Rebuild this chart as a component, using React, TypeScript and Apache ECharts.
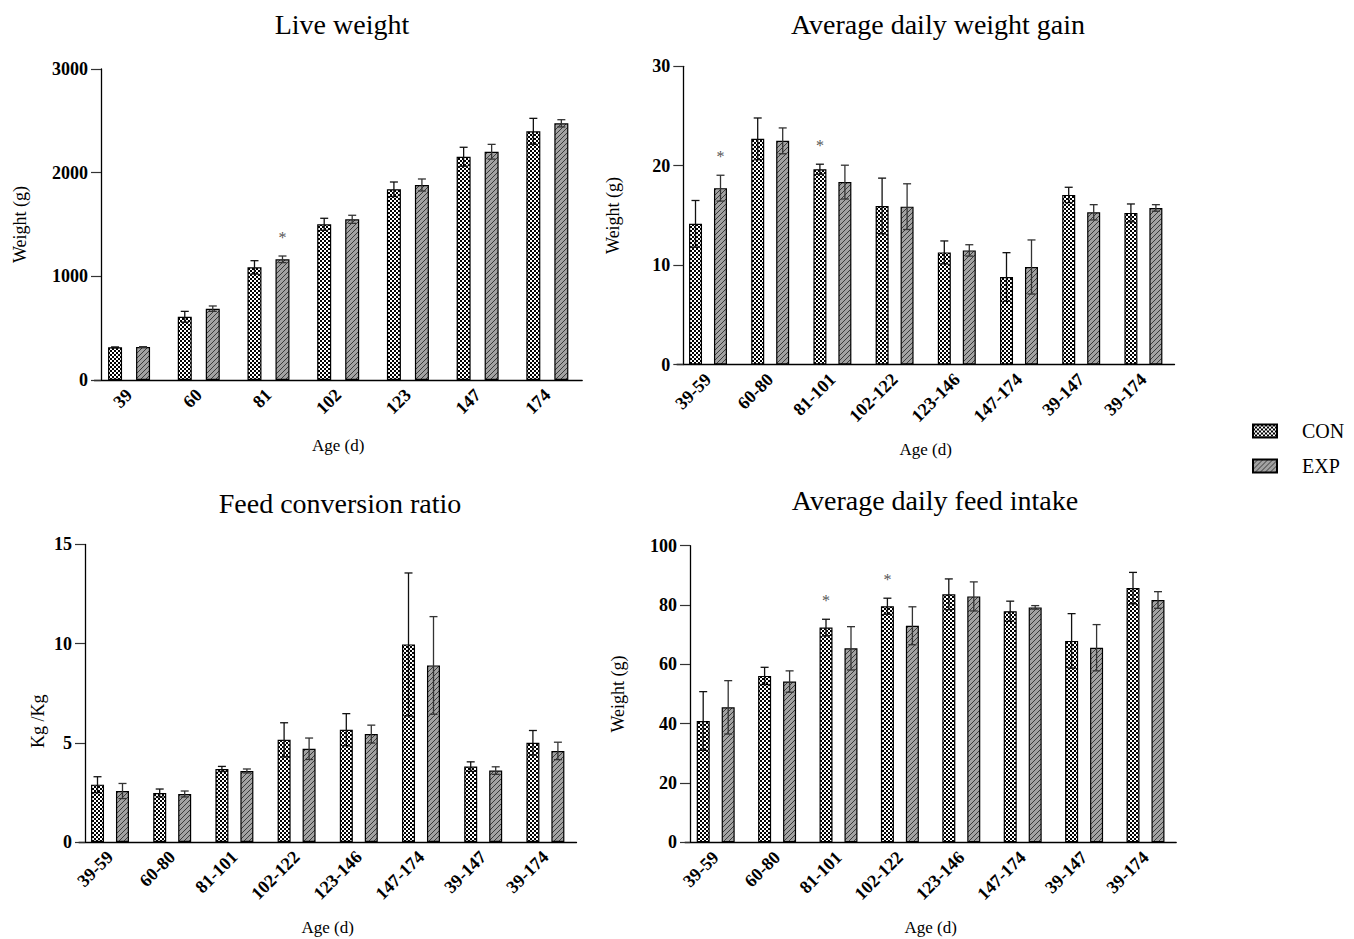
import React, { useEffect, useRef } from 'react';
import * as echarts from 'echarts';

const FONT = 'Liberation Serif';

const liveAges = ['39', '60', '81', '102', '123', '147', '174'];
const periods = ['39-59', '60-80', '81-101', '102-122', '123-146', '147-174', '39-147', '39-174'];

const lwCon = [315, 610, 1087, 1502, 1840, 2154, 2399];
const lwConErr = [4, 52, 64, 58, 70, 91, 125];
const lwExp = [318, 688, 1164, 1550, 1881, 2202, 2476];
const lwExpErr = [4, 26, 32, 39, 58, 71, 35];
const lwConSig = [0, 0, 0, 0, 0, 0, 0];
const lwExpSig = [0, 0, 1, 0, 0, 0, 0];

const adgCon = [14.15, 22.7, 19.65, 15.95, 11.28, 8.8, 17.06, 15.25];
const adgConErr = [2.35, 2.1, 0.5, 2.8, 1.15, 2.45, 0.77, 0.9];
const adgExp = [17.74, 22.5, 18.35, 15.88, 11.48, 9.81, 15.31, 15.75];
const adgExpErr = [1.3, 1.3, 1.7, 2.3, 0.57, 2.72, 0.77, 0.33];
const adgConSig = [0, 0, 1, 0, 0, 0, 0, 0];
const adgExpSig = [1, 0, 0, 0, 0, 0, 0, 0];

const fcrCon = [2.89, 2.47, 3.68, 5.15, 5.66, 9.96, 3.8, 5.0];
const fcrConErr = [0.4, 0.2, 0.13, 0.86, 0.81, 3.6, 0.24, 0.62];
const fcrExp = [2.57, 2.42, 3.58, 4.7, 5.44, 8.9, 3.6, 4.59];
const fcrExpErr = [0.38, 0.15, 0.1, 0.54, 0.45, 2.46, 0.19, 0.44];
const noSig = [0, 0, 0, 0, 0, 0, 0, 0];

const adfiCon = [40.9, 56.1, 72.4, 79.6, 83.6, 77.9, 67.9, 85.7];
const adfiConErr = [9.9, 2.9, 2.8, 2.7, 5.2, 3.4, 9.2, 5.3];
const adfiExp = [45.5, 54.2, 65.4, 73.0, 82.9, 79.2, 65.6, 81.7];
const adfiExpErr = [9.0, 3.6, 7.3, 6.4, 4.9, 0.6, 7.8, 2.8];
const adfiConSig = [0, 0, 1, 1, 0, 0, 0, 0];

function makeChecker() {
  const c = document.createElement('canvas');
  c.width = 4;
  c.height = 4;
  const ctx = c.getContext('2d')!;
  ctx.fillStyle = '#ffffff';
  ctx.fillRect(0, 0, 4, 4);
  ctx.fillStyle = '#000000';
  ctx.fillRect(0, 0, 2, 2);
  ctx.fillRect(2, 2, 2, 2);
  return { image: c.toDataURL(), repeat: 'repeat', imageWidth: 4, imageHeight: 4 };
}

function makeHatch() {
  const s = 5;
  const c = document.createElement('canvas');
  c.width = s;
  c.height = s;
  const ctx = c.getContext('2d')!;
  ctx.fillStyle = '#a2a2a2';
  ctx.fillRect(0, 0, s, s);
  ctx.strokeStyle = '#3a3a3a';
  ctx.lineWidth = 1;
  ctx.beginPath();
  ctx.moveTo(0, s);
  ctx.lineTo(s, 0);
  ctx.moveTo(-1, 1);
  ctx.lineTo(1, -1);
  ctx.moveTo(s - 1, s + 1);
  ctx.lineTo(s + 1, s - 1);
  ctx.stroke();
  return { image: c.toDataURL(), repeat: 'repeat', imageWidth: s, imageHeight: s };
}

function errorSeries(gi: number, name: string, values: number[], errs: number[], sigs: number[], offset: number, color: string) {
  return {
    type: 'custom',
    name,
    xAxisIndex: gi,
    yAxisIndex: gi,
    z: 5,
    silent: true,
    clip: false,
    data: values.map((v, i) => [i, v, errs[i], sigs[i]]),
    encode: { x: 0, y: 1 },
    renderItem: (params: any, api: any) => {
      const i = api.value(0);
      const v = api.value(1);
      const e = api.value(2);
      const s = api.value(3);
      const top = api.coord([i, v + e]);
      const bot = api.coord([i, v - e]);
      const x = top[0] + offset;
      const cap = 4;
      const st = { stroke: color, lineWidth: 1.3 };
      const children: any[] = [
        { type: 'line', shape: { x1: x, y1: top[1], x2: x, y2: bot[1] }, style: st },
        { type: 'line', shape: { x1: x - cap, y1: top[1], x2: x + cap, y2: top[1] }, style: st },
        { type: 'line', shape: { x1: x - cap, y1: bot[1], x2: x + cap, y2: bot[1] }, style: st },
      ];
      if (s) {
        children.push({
          type: 'text',
          x,
          y: top[1] - 19,
          style: { text: '*', fill: '#555555', font: `16px "${FONT}"`, textAlign: 'center', textVerticalAlign: 'middle' },
        });
      }
      return { type: 'group', children };
    },
  };
}

function barSeries(gi: number, name: string, values: number[], color: any, bw: number, gap: string) {
  return {
    type: 'bar',
    name,
    xAxisIndex: gi,
    yAxisIndex: gi,
    data: values,
    barWidth: bw,
    barGap: gap,
    itemStyle: { color, borderColor: '#000', borderWidth: 1.2 },
  };
}

function xAxis(gi: number, data: string[], nameGap: number) {
  return {
    type: 'category',
    gridIndex: gi,
    data,
    axisLine: { lineStyle: { color: '#000', width: 1.3 } },
    axisTick: { alignWithLabel: true, interval: 0, length: 9, lineStyle: { color: '#333', width: 1.2 } },
    axisLabel: { rotate: 45, interval: 0, fontSize: 18, fontWeight: 'bold', color: '#000', margin: 12, fontFamily: FONT },
    name: 'Age (d)',
    nameLocation: 'middle',
    nameGap,
    nameTextStyle: { fontSize: 17, color: '#000', fontFamily: FONT },
  };
}

function yAxis(gi: number, max: number, interval: number, name: string, nameGap: number, offset: number, namePad: number[]) {
  return {
    type: 'value',
    gridIndex: gi,
    min: 0,
    max,
    interval,
    offset,
    axisLine: { show: true, lineStyle: { color: '#000', width: 1.3 } },
    axisTick: { show: true, length: 10, lineStyle: { color: '#333', width: 1.2 } },
    splitLine: { show: false },
    axisLabel: {
      fontSize: 18,
      fontWeight: 'bold',
      color: '#000',
      margin: 13,
      fontFamily: FONT,
      formatter: (v: number) => String(v),
    },
    name,
    nameLocation: 'middle',
    nameGap,
    nameRotate: 90,
    nameTextStyle: { fontSize: 18, color: '#000', fontFamily: FONT, padding: namePad },
  };
}

export default function App() {
  const ref = useRef<HTMLDivElement>(null);
  useEffect(() => {
    if (!ref.current) return;
    const chart = echarts.init(ref.current, null, { renderer: 'svg' });
    const checker = makeChecker();
    const hatch = makeHatch();
    const titleStyle = (text: string, x: number, y: number) => ({
      type: 'text',
      x,
      y,
      style: { text, fill: '#000', font: `28px "${FONT}"`, textAlign: 'center', textVerticalAlign: 'middle' },
    });
    chart.setOption({
      animation: false,
      textStyle: { fontFamily: FONT },
      grid: [
        { left: 94.2, top: 69, width: 488, height: 311 },
        { left: 676.9, top: 66.3, width: 497.6, height: 298.2 },
        { left: 78.9, top: 544.4, width: 497.6, height: 297.6 },
        { left: 685, top: 545.7, width: 491.2, height: 296.6 },
      ],
      xAxis: [xAxis(0, liveAges, 57), xAxis(1, periods, 76), xAxis(2, periods, 77), xAxis(3, periods, 77)],
      yAxis: [
        yAxis(0, 3000, 1000, 'Weight (g)', 72, -6.8, [0, 0, 0, 0]),
        yAxis(1, 30, 10, 'Weight (g)', 61, -6.4, [0, 0, 0, 0]),
        yAxis(2, 15, 5, 'Kg /Kg', 38, -6.1, [0, 56, 0, 0]),
        yAxis(3, 100, 20, 'Weight (g)', 63, -5, [0, 0, 0, 0]),
      ],
      legend: {
        data: ['CON', 'EXP'],
        orient: 'vertical',
        left: 1252,
        top: 421,
        padding: 0,
        itemWidth: 24,
        itemHeight: 13,
        itemGap: 15,
        icon: 'rect',
        selectedMode: false,
        textStyle: { fontSize: 20, color: '#000', fontFamily: FONT, padding: [0, 0, 0, 20] },
      },
      graphic: [
        titleStyle('Live weight', 342, 24),
        titleStyle('Average daily weight gain', 938, 24),
        titleStyle('Feed conversion ratio', 340, 503),
        titleStyle('Average daily feed intake', 935, 500),
      ],
      series: [
        barSeries(0, 'CON', lwCon, checker, 14, '100%'),
        barSeries(0, 'EXP', lwExp, hatch, 14, '100%'),
        barSeries(1, 'CON', adgCon, checker, 13, '92%'),
        barSeries(1, 'EXP', adgExp, hatch, 13, '92%'),
        barSeries(2, 'CON', fcrCon, checker, 13, '92%'),
        barSeries(2, 'EXP', fcrExp, hatch, 13, '92%'),
        barSeries(3, 'CON', adfiCon, checker, 13, '92%'),
        barSeries(3, 'EXP', adfiExp, hatch, 13, '92%'),
        errorSeries(0, 'CON err', lwCon, lwConErr, lwConSig, -14, '#111'),
        errorSeries(0, 'EXP err', lwExp, lwExpErr, lwExpSig, 14, '#333'),
        errorSeries(1, 'CON err', adgCon, adgConErr, adgConSig, -12.5, '#111'),
        errorSeries(1, 'EXP err', adgExp, adgExpErr, adgExpSig, 12.5, '#333'),
        errorSeries(2, 'CON err', fcrCon, fcrConErr, noSig, -12.5, '#111'),
        errorSeries(2, 'EXP err', fcrExp, fcrExpErr, noSig, 12.5, '#333'),
        errorSeries(3, 'CON err', adfiCon, adfiConErr, adfiConSig, -12.5, '#111'),
        errorSeries(3, 'EXP err', adfiExp, adfiExpErr, noSig, 12.5, '#333'),
      ],
    });
    return () => chart.dispose();
  }, []);
  return <div ref={ref} style={{ position: 'absolute', left: 0, top: 0, width: 1354, height: 939, background: '#fff' }} />;
}
